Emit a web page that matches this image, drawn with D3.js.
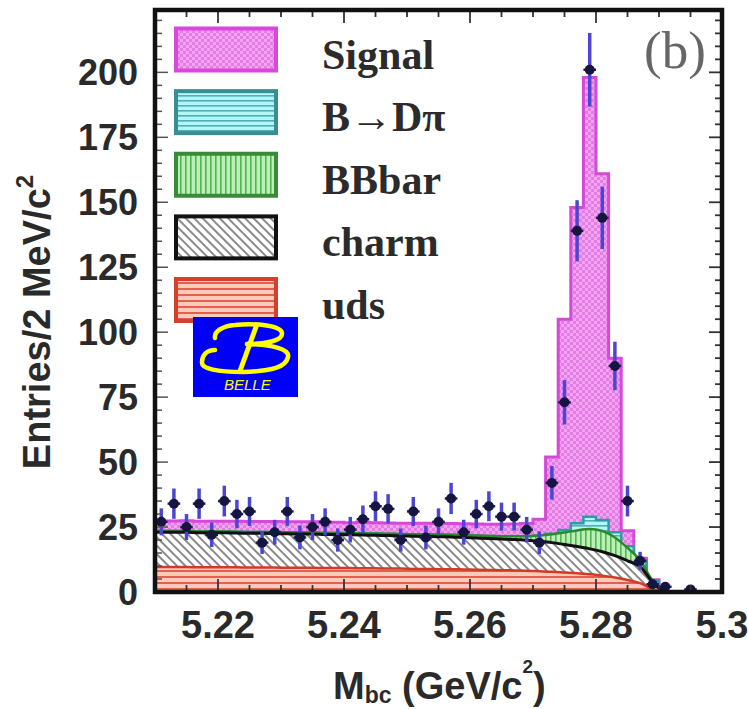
<!DOCTYPE html>
<html><head><meta charset="utf-8">
<script src="https://cdn.jsdelivr.net/npm/d3@7"></script>
<style>body{margin:0;background:#fff}svg{display:block}</style>
</head><body>
<svg id="c" width="748" height="709"></svg>
<script>
// ---------- data ----------
const binCenters = [5.211,5.213,5.215,5.217,5.219,5.221,5.223,5.225,5.227,5.229,
  5.231,5.233,5.235,5.237,5.239,5.241,5.243,5.245,5.247,5.249,
  5.251,5.253,5.255,5.257,5.259,5.261,5.263,5.265,5.267,5.269,
  5.271,5.273,5.275,5.277,5.279,5.281,5.283,5.285,5.287,5.289,
  5.291,5.293,5.295,5.297,5.299];
const dataCounts = [27,34,25,34,22,35,30,31,19,23,31,21,25,27,20,24,28,33,32,20,
  31,21,27,36,23,30,33,29,29,24,19,42,73,139,201,144,87,35,12,3,2,0,1,0,0];
const uds = [9.6,9.6,9.6,9.5,9.5,9.5,9.5,9.4,9.4,9.4,9.3,9.3,9.3,9.2,9.2,9.2,9.1,9.1,9.0,9.0,
  8.9,8.9,8.8,8.8,8.7,8.6,8.5,8.4,8.3,8.2,8.0,7.8,7.5,7.2,6.8,6.3,5.6,4.6,3.4,1.2,0,0,0,0,0];
const charm = [13.4,13.4,13.4,13.3,13.3,13.3,13.2,13.2,13.2,13.1,13.1,13.0,13.0,12.9,12.9,12.8,12.8,12.7,12.7,12.6,
  12.6,12.5,12.5,12.4,12.3,12.2,12.1,12.0,11.9,11.7,11.5,11.2,10.8,10.3,9.8,9.2,8.4,7.4,6.4,2.6,0,0,0,0,0];
const bbbar = [0.5,0.5,0.5,0.5,0.5,0.5,0.5,0.5,0.5,0.6,0.6,0.6,0.6,0.6,0.6,0.6,0.7,0.7,0.7,0.7,
  0.7,0.8,0.8,0.8,0.9,0.9,1.0,1.1,1.3,1.6,2.2,3.2,4.6,6.2,7.6,8.0,7.0,5.0,2.4,0.5,0,0,0,0,0];
const bdpi = [0,0,0,0,0,0,0,0,0,0,0,0,0,0,0,0,0,0,0,0,
  0,0,0,0,0,0,0,0,0,0,0,0.2,1.0,2.8,4.8,4.2,2.0,0.6,0,0,0,0,0,0,0];
const signal = [3.8,3.8,3.9,3.9,3.9,3.9,4.0,4.0,4.0,4.0,4.0,4.1,4.1,4.1,4.1,4.1,4.2,4.2,4.2,4.2,
  4.3,4.3,4.3,4.4,4.4,4.5,4.5,4.6,4.7,4.9,6.3,29.6,81.1,121.5,169,133.3,67,6,0.8,0.4,0,0,0,0,0];
const xTicks = [5.22,5.24,5.26,5.28,5.30];
const xTickLabels = ["5.22","5.24","5.26","5.28","5.3"];
const yTicks = [0,25,50,75,100,125,150,175,200];
const legendLabels = ["Signal","B\u2192D\u03c0","BBbar","charm","uds"];

// ---------- setup ----------
const svg = d3.select('#c');
const x = d3.scaleLinear().domain([5.21,5.30]).range([155,722]);
const y = d3.scaleLinear().domain([0,224]).range([592,10]);
const half = 0.001;
const defs = svg.append('defs');

defs.append('clipPath').attr('id','clip').append('rect')
  .attr('x',x(5.21)).attr('y',y(224)).attr('width',x(5.30)-x(5.21)).attr('height',y(0)-y(224));

function pat(id,w,h,bg,draw,transform){
  const p = defs.append('pattern').attr('id',id).attr('patternUnits','userSpaceOnUse')
    .attr('width',w).attr('height',h);
  if(transform) p.attr('patternTransform',transform);
  p.append('rect').attr('width',w).attr('height',h).attr('fill',bg);
  draw(p);
}
pat('pSig',6,6,'#f3a4f1',p=>{
  p.append('rect').attr('x',0).attr('y',0).attr('width',3).attr('height',3).attr('fill','#e47ce6');
  p.append('rect').attr('x',3).attr('y',3).attr('width',3).attr('height',3).attr('fill','#e47ce6');
});
pat('pBD',6,5,'#b2f6f6',p=>{
  p.append('rect').attr('x',0).attr('y',0).attr('width',6).attr('height',1.6).attr('fill','#4fb0b8');
});
pat('pBB',5,6,'#baf0b6',p=>{
  p.append('rect').attr('x',0).attr('y',0).attr('width',1.6).attr('height',6).attr('fill','#55b255');
});
pat('pCh',6,6,'#ffffff',p=>{
  p.append('rect').attr('x',0).attr('y',0).attr('width',2).attr('height',6).attr('fill','#8a8a8a');
},'rotate(-45)');
pat('pUds',6,6,'#fbcabb',p=>{
  p.append('rect').attr('x',0).attr('y',0).attr('width',6).attr('height',2).attr('fill','#e45f4c');
});

// ---------- stacked fit components ----------
const comps = [uds, charm, bbbar, bdpi, signal];
const cum = [];
comps.forEach((arr,k)=>{
  cum.push(arr.map((v,i)=> v + (k>0 ? cum[k-1][i] : 0)));
});

function stepPts(vals){
  const pts = binCenters.map((c,i)=>({x:c-half, v:vals[i]}));
  pts.push({x:binCenters[binCenters.length-1]+half, v:vals[vals.length-1]});
  return pts;
}
function smoothPts(vals){
  const pts = [{x:5.21, v:vals[0]}];
  binCenters.forEach((c,i)=>pts.push({x:c, v:vals[i]}));
  pts.push({x:5.30, v:vals[vals.length-1]});
  return pts;
}
const gFit = svg.append('g').attr('clip-path','url(#clip)');
const layers = [
  {k:4, fill:'url(#pSig)', stroke:'#d648d8', sw:3, step:true},
  {k:3, fill:'url(#pBD)', stroke:'#2f9aa2', sw:2.5, step:true},
  {k:2, fill:'url(#pBB)', stroke:'#2c8a2c', sw:2.5, step:false},
  {k:1, fill:'url(#pCh)', stroke:'#111111', sw:3, step:false},
  {k:0, fill:'url(#pUds)', stroke:'#d23a28', sw:2.5, step:false}
];
layers.forEach(L=>{
  const pts = L.step ? stepPts(cum[L.k]) : smoothPts(cum[L.k]);
  const curve = L.step ? d3.curveStepAfter : d3.curveMonotoneX;
  const area = d3.area().x(d=>x(d.x)).y0(y(0)).y1(d=>y(d.v)).curve(curve);
  const line = d3.line().x(d=>x(d.x)).y(d=>y(d.v)).curve(curve);
  gFit.append('path').attr('d',area(pts)).attr('fill',L.fill);
  gFit.append('path').attr('d',line(pts)).attr('fill','none')
    .attr('stroke',L.stroke).attr('stroke-width',L.sw);
});

// ---------- data points ----------
const gData = svg.append('g').attr('clip-path','url(#clip)');
binCenters.forEach((c,i)=>{
  const n = dataCounts[i];
  if(n<=0) return;
  const e = Math.sqrt(n);
  gData.append('line').attr('x1',x(c)).attr('x2',x(c))
    .attr('y1',y(n-e)).attr('y2',y(n+e)).attr('stroke','#4b45d2').attr('stroke-width',3.5);
  gData.append('line').attr('x1',x(c-half)).attr('x2',x(c+half))
    .attr('y1',y(n)).attr('y2',y(n)).attr('stroke','#1d1d68').attr('stroke-width',2.5);
  gData.append('circle').attr('cx',x(c)).attr('cy',y(n)).attr('r',5).attr('fill','#15153f');
});

// ---------- frame & ticks ----------
const g = svg.append('g');
const x0=x(5.21), x1=x(5.30), yb=y(0), yt=y(224);
const yMinor = d3.range(0,225,5);
const xMinor = d3.range(0,19).map(i=>5.21+i*0.005);
yMinor.forEach(v=>{
  const major = yTicks.includes(v);
  g.append('line').attr('x1',x0).attr('x2',x0+(major?13:7)).attr('y1',y(v)).attr('y2',y(v))
    .attr('stroke','#555').attr('stroke-width',1.5);
  g.append('line').attr('x1',x1).attr('x2',x1-(major?13:7)).attr('y1',y(v)).attr('y2',y(v))
    .attr('stroke','#333').attr('stroke-width',1.8);
});
xMinor.forEach(v=>{
  const major = xTicks.some(t=>Math.abs(t-v)<1e-6);
  g.append('line').attr('x1',x(v)).attr('x2',x(v)).attr('y1',yb).attr('y2',yb-(major?13:7))
    .attr('stroke','#333').attr('stroke-width',1.8);
  g.append('line').attr('x1',x(v)).attr('x2',x(v)).attr('y1',yt).attr('y2',yt+(major?13:7))
    .attr('stroke','#333').attr('stroke-width',1.8);
});
g.append('rect').attr('x',x0).attr('y',yt).attr('width',x1-x0).attr('height',yb-yt)
  .attr('fill','none').attr('stroke','#111').attr('stroke-width',4.5);

// tick labels
const sans = "'Liberation Sans', Arial, sans-serif";
yTicks.forEach(v=>{
  g.append('text').attr('x',138).attr('y',y(v)).attr('dy','0.36em')
    .attr('text-anchor','end').attr('font-family',sans).attr('font-weight','bold')
    .attr('font-size',36).attr('fill','#2a2a2a').text(String(v));
});
xTicks.forEach((v,i)=>{
  g.append('text').attr('x',x(v)).attr('y',638)
    .attr('text-anchor','middle').attr('font-family',sans).attr('font-weight','bold')
    .attr('font-size',38).attr('fill','#2a2a2a').text(xTickLabels[i]);
});

// axis titles
const xt = g.append('text').attr('x',333).attr('y',699).attr('font-family',sans)
  .attr('font-weight','bold').attr('font-size',38).attr('fill','#2a2a2a');
xt.append('tspan').text('M');
xt.append('tspan').attr('dy',4).attr('font-size',23).text('bc');
xt.append('tspan').attr('dy',-4).text(' (GeV/c');
xt.append('tspan').attr('dy',-26).attr('font-size',19).text('2');
xt.append('tspan').attr('dy',26).text(')');

const yt2 = g.append('text').attr('transform','translate(50,322) rotate(-90)')
  .attr('text-anchor','middle').attr('font-family',sans).attr('font-weight','bold')
  .attr('font-size',38).attr('fill','#2a2a2a');
yt2.append('tspan').text('Entries/2 MeV/c');
yt2.append('tspan').attr('dy',-17).attr('font-size',24).text('2');

// ---------- legend ----------
const serif = "'Liberation Serif', 'Times New Roman', serif";
const legFill = ['url(#pSig)','url(#pBD)','url(#pBB)','url(#pCh)','url(#pUds)'];
const legStroke = ['#d848dc','#388e92','#3a8a3a','#111111','#d2402e'];
const legY = d3.scaleLinear().domain([0,4]).range([49.5,300]);
legendLabels.forEach((lab,i)=>{
  const cy = legY(i);
  g.append('rect').attr('x',176).attr('y',cy-21).attr('width',100).attr('height',42)
    .attr('fill',legFill[i]).attr('stroke',legStroke[i]).attr('stroke-width',4);
  g.append('text').attr('x',322).attr('y',cy+19).attr('font-family',serif)
    .attr('font-weight','bold').attr('font-size',42).attr('fill','#2b2b2b').text(lab);
});
g.append('text').attr('x',644).attr('y',68).attr('font-family',serif)
  .attr('font-size',53).attr('fill','#666').text('(b)');

// ---------- BELLE logo ----------
const logo = g.append('g').attr('transform','translate(193,317)');
logo.append('rect').attr('width',105).attr('height',80).attr('fill','#0000f6');
const yel = '#ffff00';
logo.append('path').attr('d','M22,21 C21,14 30,9 42,8 C60,6 88,8 89,16 C90,24 72,27 54,27')
  .attr('fill','none').attr('stroke',yel).attr('stroke-width',4.5).attr('stroke-linecap','round');
logo.append('path').attr('d','M54,27 C80,28 97,32 95,40 C93,50 80,54 50,55 C25,55 8,52 9,45 C9,38 14,33 22,33')
  .attr('fill','none').attr('stroke',yel).attr('stroke-width',4.5).attr('stroke-linecap','round');
logo.append('path').attr('d','M63,10 L47,54')
  .attr('fill','none').attr('stroke',yel).attr('stroke-width',5).attr('stroke-linecap','round');
logo.append('text').attr('x',31).attr('y',73).attr('font-family',sans).attr('font-style','italic')
  .attr('font-size',15).attr('fill',yel).text('BELLE');
</script>
</body></html>
